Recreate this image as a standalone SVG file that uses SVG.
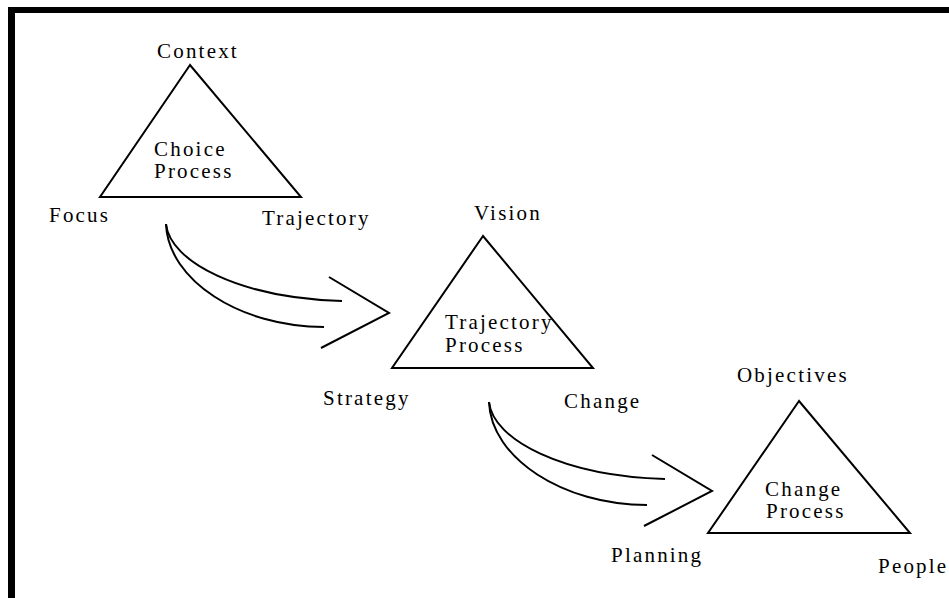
<svg xmlns="http://www.w3.org/2000/svg" width="949" height="598" viewBox="0 0 949 598">
<style>
.t{font-family:"Liberation Serif","Times New Roman",serif;font-size:21px;letter-spacing:2.2px;fill:#000}
.tri{fill:none;stroke:#000;stroke-width:2;stroke-linejoin:miter}
.ln{fill:none;stroke:#000;stroke-width:2}
</style>
<rect x="0" y="0" width="949" height="598" fill="#fff"/>
<rect x="8" y="7" width="941" height="6" fill="#000"/>
<rect x="8" y="7" width="7" height="591" fill="#000"/>
<g id="choice">
<polygon class="tri" points="190,65 100,197 301,197"/>
<text class="t" x="157" y="58">Context</text>
<text class="t" x="154" y="156">Choice</text>
<text class="t" x="154" y="178">Process</text>
<text class="t" x="49" y="222">Focus</text>
<text class="t" x="262" y="225">Trajectory</text>
</g>
<g id="trajectory">
<polygon class="tri" points="483,236 392,368 593,368"/>
<text class="t" x="474" y="220">Vision</text>
<text class="t" x="445" y="329">Trajectory</text>
<text class="t" x="445" y="352">Process</text>
<text class="t" x="323" y="405">Strategy</text>
<text class="t" x="564" y="408">Change</text>
</g>
<g id="change">
<polygon class="tri" points="799,401 708,533 910,533"/>
<text class="t" x="737" y="382">Objectives</text>
<text class="t" x="765" y="496">Change</text>
<text class="t" x="766" y="518">Process</text>
<text class="t" x="611" y="562">Planning</text>
<text class="t" x="878" y="573">People</text>
</g>
<g id="connectors">
<g id="arrow1">
<path class="ln" d="M166,224 C170,262 240,298 342,301"/>
<path class="ln" d="M166,224 C168,280 240,327 324,327"/>
<polyline class="ln" points="329,277 389,313 321,348"/>
</g>
<g id="arrow2" transform="translate(323,178)">
<path class="ln" d="M166,224 C170,262 240,298 342,301"/>
<path class="ln" d="M166,224 C168,280 240,327 324,327"/>
<polyline class="ln" points="329,277 389,313 321,348"/>
</g>
</g>
</svg>
